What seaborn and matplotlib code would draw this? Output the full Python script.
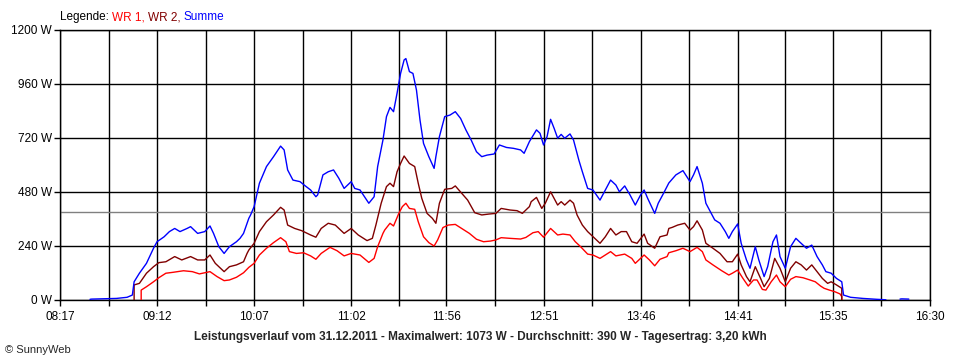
import matplotlib
matplotlib.use("Agg")
import matplotlib.pyplot as plt
import seaborn as sns
import pandas as pd
import numpy as np

# time axis labels (every second grid line carries a label)
x_labels = ["08:17", "09:12", "10:07", "11:02", "11:56", "12:51", "13:46", "14:41", "15:35", "16:30"]
y_ticks = [0, 240, 480, 720, 960, 1200]

# Summe (blue)
summe_t = ["08:34", "08:35", "08:49", "08:55", "08:58", "08:59", "09:02", "09:06", "09:10", "09:12",
           "09:16", "09:19", "09:22", "09:25", "09:29", "09:31", "09:35", "09:39", "09:42", "09:44",
           "09:47", "09:50", "09:53", "09:57", "09:59", "10:01", "10:04", "10:05", "10:07", "10:10",
           "10:14", "10:18", "10:22", "10:24", "10:26", "10:29", "10:33", "10:36", "10:39", "10:42",
           "10:43", "10:46", "10:49", "10:52", "10:55", "10:58", "11:02", "11:04", "11:07", "11:12",
           "11:15", "11:17", "11:20", "11:22", "11:24", "11:26", "11:28", "11:30", "11:32", "11:33",
           "11:35", "11:37", "11:39", "11:41", "11:43", "11:46", "11:49", "11:50", "11:52", "11:55",
           "11:58", "12:01", "12:04", "12:07", "12:10", "12:13", "12:16", "12:19", "12:23", "12:26",
           "12:30", "12:34", "12:38", "12:40", "12:43", "12:47", "12:49", "12:51", "12:53", "12:55",
           "12:57", "12:59", "13:01", "13:03", "13:06", "13:08", "13:11", "13:13", "13:16", "13:19",
           "13:23", "13:26", "13:29", "13:32", "13:34", "13:37", "13:40", "13:43", "13:46", "13:48",
           "13:50", "13:54", "13:56", "13:59", "14:02", "14:06", "14:10", "14:14", "14:16", "14:18",
           "14:21", "14:23", "14:25", "14:28", "14:31", "14:34", "14:36", "14:38", "14:41", "14:43",
           "14:46", "14:48", "14:51", "14:53", "14:56", "14:58", "15:01", "15:03", "15:05", "15:08",
           "15:11", "15:14", "15:16", "15:20", "15:23", "15:26", "15:29", "15:31", "15:34", "15:37",
           "15:40", "15:41", "15:45", "15:52", "16:00", "16:05"]
summe_w = [3, 4, 7, 12, 22, 81, 119, 163, 230, 259,
           281, 304, 318, 304, 318, 326, 296, 304, 329, 296,
           237, 207, 237, 259, 274, 296, 363, 378, 415, 519,
           593, 637, 684, 667, 578, 533, 526, 507, 489, 459,
           467, 556, 570, 578, 541, 496, 526, 496, 489, 430,
           459, 593, 711, 815, 856, 837, 919, 1007, 1067, 1073,
           1015, 1007, 933, 800, 696, 637, 585, 637, 726, 815,
           822, 837, 807, 756, 711, 659, 637, 644, 649, 689,
           678, 674, 667, 652, 704, 756, 741, 689, 726, 803,
           763, 719, 736, 719, 738, 711, 622, 570, 496, 489,
           444, 489, 533, 511, 481, 507, 467, 422, 467, 489,
           452, 385, 430, 474, 520, 556, 575, 526, 556, 593,
           519, 430, 400, 356, 341, 304, 274, 304, 338, 252,
           178, 141, 237, 178, 104, 148, 259, 289, 193, 141,
           237, 274, 259, 230, 244, 193, 156, 126, 119, 96,
           81, 22, 12, 7, 3, 1]
summe_blip_t = ["16:13", "16:14", "16:18"]
summe_blip_w = [4, 5, 4]

# WR 2 (dark red)
wr2_t = ["08:59", "08:59", "09:02", "09:06", "09:10", "09:13", "09:17", "09:22", "09:26", "09:31",
         "09:35", "09:39", "09:42", "09:45", "09:50", "09:53", "09:57", "10:01", "10:03", "10:04",
         "10:07", "10:10", "10:14", "10:18", "10:22", "10:24", "10:26", "10:30", "10:34", "10:39",
         "10:42", "10:45", "10:49", "10:53", "10:58", "11:02", "11:06", "11:11", "11:14", "11:16",
         "11:19", "11:22", "11:24", "11:26", "11:28", "11:30", "11:32", "11:35", "11:38", "11:40",
         "11:42", "11:45", "11:48", "11:50", "11:52", "11:55", "11:59", "12:01", "12:05", "12:08",
         "12:12", "12:16", "12:20", "12:24", "12:27", "12:32", "12:36", "12:39", "12:43", "12:44",
         "12:47", "12:50", "12:52", "12:55", "12:59", "13:01", "13:03", "13:06", "13:08", "13:10",
         "13:13", "13:16", "13:18", "13:21", "13:23", "13:26", "13:29", "13:32", "13:35", "13:38",
         "13:41", "13:44", "13:48", "13:50", "13:54", "13:57", "14:01", "14:02", "14:04", "14:07",
         "14:11", "14:14", "14:16", "14:18", "14:21", "14:23", "14:27", "14:31", "14:35", "14:38",
         "14:41", "14:43", "14:46", "14:48", "14:51", "14:54", "14:56", "14:59", "15:02", "15:05",
         "15:08", "15:11", "15:14", "15:17", "15:20", "15:23", "15:26", "15:29", "15:32", "15:34",
         "15:37", "15:40", "15:40"]
wr2_w = [0, 67, 74, 119, 148, 166, 170, 193, 178, 193,
         178, 178, 200, 163, 126, 148, 156, 170, 207, 222,
         252, 304, 348, 378, 412, 400, 333, 318, 308, 289,
         279, 318, 341, 333, 296, 318, 289, 264, 274, 333,
         430, 504, 519, 504, 570, 607, 640, 607, 593, 519,
         452, 385, 363, 341, 430, 492, 496, 507, 471, 444,
         388, 378, 382, 385, 407, 400, 397, 385, 415, 437,
         456, 407, 430, 481, 422, 437, 422, 444, 430, 378,
         333, 304, 289, 267, 252, 281, 318, 289, 304, 304,
         259, 252, 293, 252, 230, 281, 289, 318, 323, 333,
         341, 311, 326, 352, 311, 252, 230, 207, 170, 170,
         204, 156, 104, 81, 148, 96, 59, 96, 185, 141,
         81, 141, 170, 156, 133, 156, 126, 96, 74, 81,
         67, 52, 0]

# WR 1 (red)
wr1_t = ["09:03", "09:03", "09:06", "09:10", "09:13", "09:17", "09:21", "09:27", "09:32", "09:36",
         "09:39", "09:42", "09:46", "09:50", "09:53", "09:57", "10:01", "10:04", "10:07", "10:10",
         "10:14", "10:18", "10:22", "10:25", "10:27", "10:31", "10:35", "10:39", "10:42", "10:45",
         "10:50", "10:54", "10:58", "11:02", "11:07", "11:12", "11:15", "11:17", "11:20", "11:21",
         "11:24", "11:26", "11:29", "11:31", "11:33", "11:35", "11:38", "11:40", "11:43", "11:46",
         "11:49", "11:51", "11:54", "11:57", "12:01", "12:06", "12:09", "12:13", "12:17", "12:21",
         "12:24", "12:27", "12:32", "12:38", "12:41", "12:45", "12:48", "12:51", "12:55", "12:59",
         "13:02", "13:06", "13:09", "13:12", "13:16", "13:19", "13:23", "13:26", "13:29", "13:32",
         "13:37", "13:41", "13:43", "13:48", "13:51", "13:54", "13:57", "14:01", "14:02", "14:06",
         "14:10", "14:14", "14:18", "14:21", "14:23", "14:27", "14:32", "14:36", "14:38", "14:41",
         "14:44", "14:47", "14:50", "14:52", "14:55", "14:57", "15:00", "15:03", "15:05", "15:08",
         "15:11", "15:14", "15:18", "15:22", "15:25", "15:28", "15:30", "15:33", "15:36", "15:39",
         "15:40", "15:40"]
wr1_w = [0, 44, 59, 81, 99, 119, 123, 130, 126, 116,
         121, 126, 104, 86, 89, 101, 121, 145, 163, 200,
         230, 255, 277, 259, 215, 207, 210, 196, 181, 207,
         234, 219, 196, 207, 200, 167, 185, 237, 296, 311,
         341, 329, 385, 415, 430, 407, 403, 348, 281, 255,
         240, 267, 322, 333, 336, 311, 296, 270, 259, 262,
         267, 277, 274, 271, 278, 299, 304, 279, 318, 289,
         293, 289, 259, 237, 204, 200, 185, 200, 215, 196,
         204, 185, 163, 200, 178, 152, 181, 193, 210, 219,
         230, 215, 234, 215, 178, 156, 130, 111, 119, 133,
         96, 62, 89, 89, 47, 44, 81, 111, 81, 59,
         92, 104, 99, 89, 81, 62, 52, 44, 37, 27,
         15, 0]

datum = "31.12.2011"
maximalwert = 1073
durchschnitt = 390
tagesertrag = "3,20"


def to_min(s):
    h, m = s.split(":")
    return int(h) * 60 + int(m)


sns.set_style("white")
plt.rcParams["font.family"] = ["Liberation Sans", "DejaVu Sans"]

fig = plt.figure(figsize=(9.6, 3.6), dpi=100)
ax = fig.add_axes([60 / 960, 60 / 360, 870 / 960, 270 / 360])

blue = "#0000ff"
red = "#ff0000"
dark = "#800000"

series = [(wr1_t, wr1_w, red), (wr2_t, wr2_w, dark), (summe_t, summe_w, blue),
          (summe_blip_t, summe_blip_w, blue)]
for times, vals, col in series:
    sns.lineplot(x=[to_min(s) for s in times], y=vals, color=col, lw=1.0,
                 estimator=None, sort=False, ax=ax, zorder=3)

major = [to_min(s) for s in x_labels]
minor = [(a + b) / 2 for a, b in zip(major[:-1], major[1:])]
ax.set_xlim(major[0], major[-1])
ax.set_ylim(0, 1200)
ax.set_xticks(major)
ax.set_xticklabels(x_labels)
ax.set_xticks(minor, minor=True)
ax.set_yticks(y_ticks)
ax.set_yticklabels([f"{v} W" for v in y_ticks])

for v in major + minor:
    ax.axvline(v, color="black", lw=1.0, zorder=1)
for v in y_ticks:
    ax.axhline(v, color="black", lw=1.0, zorder=1)
ax.axhline(durchschnitt, color="#808080", lw=1.0, zorder=2)

for sp in ax.spines.values():
    sp.set_color("black")
    sp.set_linewidth(1.0)
ax.tick_params(axis="both", which="both", direction="out", length=4, width=1.0,
               colors="black", labelsize=8.5, pad=2)
ax.tick_params(axis="x", which="both", bottom=True, pad=4)
ax.tick_params(axis="y", left=True)
ax.set_xlabel("")
ax.set_ylabel("")

# legend line at the top, pieces in series colours
fig.canvas.draw()
r = fig.canvas.get_renderer()
xpos = 60 / 960
gaps = [3, 3, 3, 0]
for (txt, col), g in zip([("Legende:", "black"), ("WR 1,", red), ("WR 2,", dark), ("Summe", blue)], gaps):
    t = fig.text(xpos, 1 - 17 / 360, txt, color=col, fontsize=8.5, va="center", ha="left")
    bb = t.get_window_extent(renderer=r)
    xpos += (bb.width + g) / fig.bbox.width

fig.text(480 / 960, 1 - 337 / 360,
         f"Leistungsverlauf vom {datum} - Maximalwert: {maximalwert} W - "
         f"Durchschnitt: {durchschnitt} W - Tagesertrag: {tagesertrag} kWh",
         ha="center", va="center", fontsize=8.5, fontweight="bold")
fig.text(5 / 960, 1 - 350 / 360, "\u00a9 SunnyWeb", ha="left", va="center", fontsize=8)

fig.savefig("out.png", dpi=100, facecolor="white")
